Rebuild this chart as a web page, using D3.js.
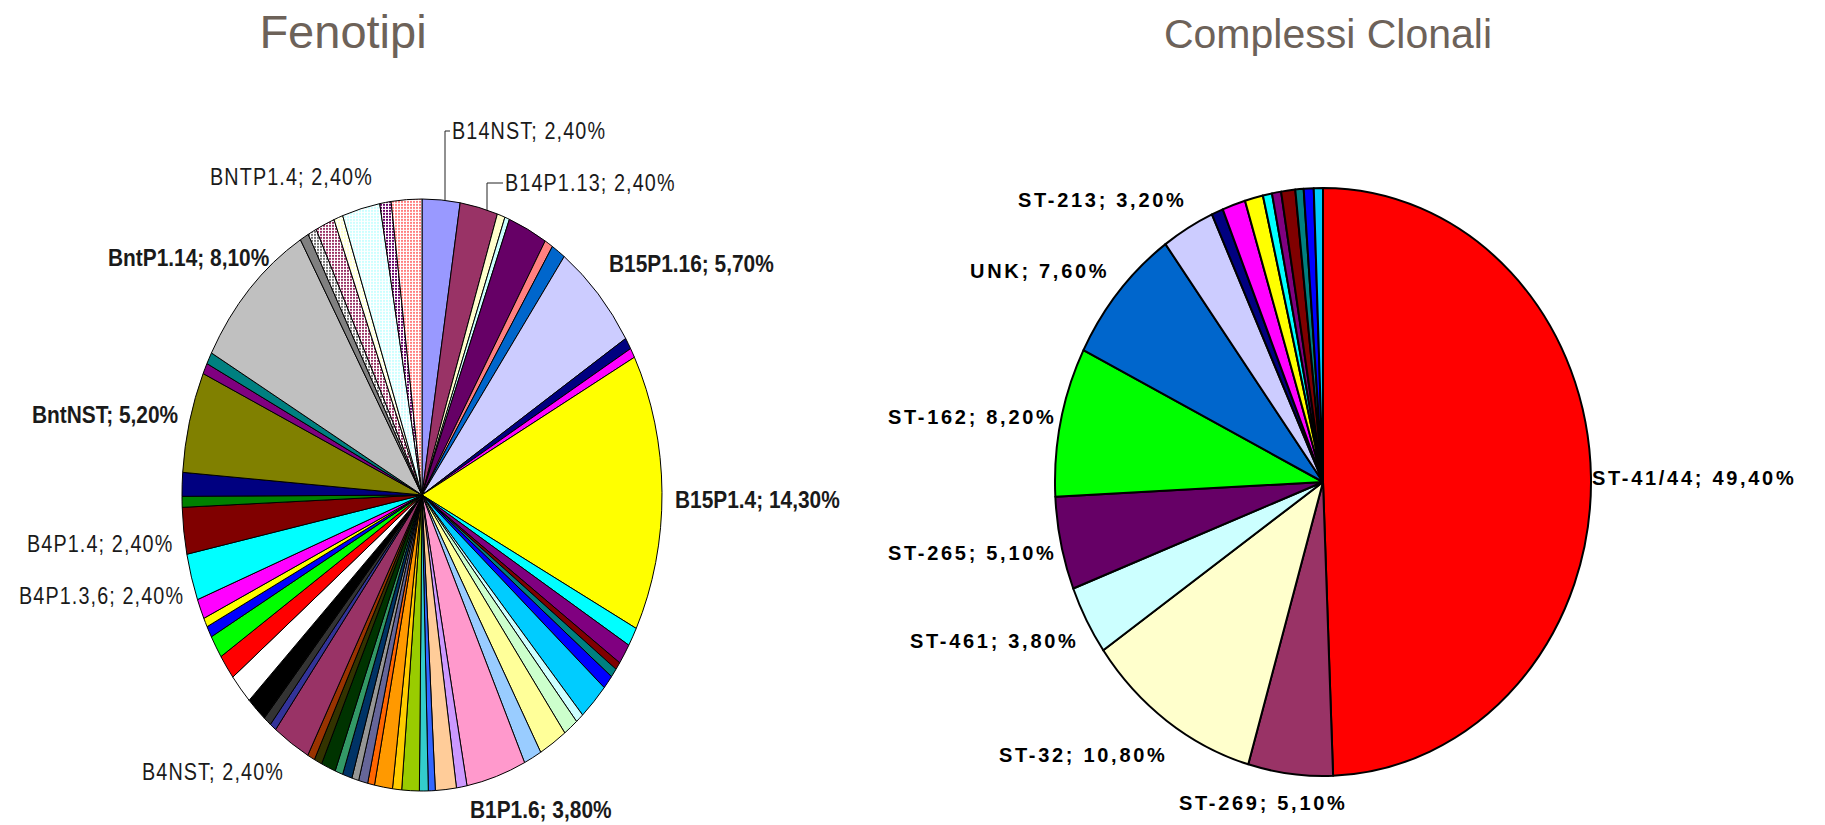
<!DOCTYPE html>
<html>
<head>
<meta charset="utf-8">
<script src="https://cdnjs.cloudflare.com/ajax/libs/d3/7.8.5/d3.min.js"></script>
<style>
body{margin:0;background:#fff;overflow:hidden;}
.title{font-family:"Liberation Sans",Arial,sans-serif;fill:#6d6259;}
.lbl{font-family:"Liberation Sans Narrow","Arial Narrow","Liberation Sans",sans-serif;fill:#1a1a1a;}
.lbl-st{font-family:"Liberation Sans",Arial,sans-serif;font-weight:bold;fill:#000;}
</style>
</head>
<body>
<div id="canvas" class="canvas" style="width:1825px;height:825px;"></div>
<script>
// Fenotipi (left pie) - percentages, clockwise from 12 o'clock
// labelled slices use the printed value, the small ones are read off the picture
var phenoNames = ['B14NST','B14P1.13','','','','','','B15P1.16','','',
    'B15P1.4','','','','','','','','','','',
    'B1P1.6','','','','','','','','','','','','','','','',
    'B4NST','','','','','','','','','',
    'B4P1.3,6','B4P1.4','','',
    'BntNST','','','BntP1.14','','','','','BNTP1.4','',''];
var phenoValues = [2.4,2.4,0.5,0.3,2.5,0.53,0.9,5.7,0.6,0.5,
    14.3,0.97,1.06,0.4,0.47,0.72,1.94,0.5,0.94,1.8,1.14,
    3.8,0.67,1.33,0.44,0.56,1.11,0.58,1.14,0.44,0.58,0.44,0.61,0.5,0.92,0.5,0.47,
    2.4,0.42,0.5,1.31,1.56,1.28,1.17,0.58,0.47,1.03,
    2.4,2.4,0.56,1.22,
    5.2,0.56,0.61,8.1,0.56,0.56,1.22,0.58,2.4,0.72,1.94];
// excel default fill order
var phenoColors = ['#9999FF','#993366','#FFFFCC','#CCFFFF','#660066','#FF8080','#0066CC','#CCCCFF','#000080','#FF00FF',
    '#FFFF00','#00FFFF','#800080','#800000','#008080','#0000FF','#00CCFF','#CCFFFF','#CCFFCC','#FFFF99','#99CCFF',
    '#FF99CC','#CC99FF','#FFCC99','#3366FF','#33CCCC','#99CC00','#FFCC00','#FF9900','#FF6600','#666699','#969696','#003366','#339966','#003300','#333300','#993300',
    '#993366','#333399','#333333','#000000','#FFFFFF','#FF0000','#00FF00','#0000FF','#FFFF00','#FF00FF',
    '#00FFFF','#800000','#008000','#000080',
    '#808000','#800080','#008080','#C0C0C0','#808080','#707070','#993366','#FFFFCC','#CCFFFF','#660066','#FF8080'];
var patternFrom = 56; // the last slices use dotted fills

// Complessi Clonali (right pie)
var ccNames = ['ST-41/44','ST-269','ST-32','ST-461','ST-265','ST-162','UNK','ST-213','','','','','','','','',''];
var ccValues = [49.4,5.1,10.8,3.8,5.1,8.2,7.6,3.2,0.7,1.4,1.1,0.55,0.55,0.85,0.5,0.6,0.55];
var ccColors = ['#FF0000','#993366','#FFFFCC','#CCFFFF','#660066','#00FF00','#0066CC','#CCCCFF',
    '#000080','#FF00FF','#FFFF00','#00FFFF','#800080','#800000','#008080','#0000FF','#00CCFF'];

// layout
var leftPie = {cx:422, cy:495, rx:240, ry:296};
var rightPie = {cx:1323, cy:482, rx:268, ry:294};

// label anchors: x start, y middle, bold
var phenoLabelPos = {
    'B14NST':[452,131,false], 'B14P1.13':[505,183,false], 'BNTP1.4':[210,177,false],
    'BntP1.14':[108,257,true], 'B15P1.16':[609,263,true], 'BntNST':[32,414,true],
    'B15P1.4':[675,499,true], 'B4P1.4':[27,544,false], 'B4P1.3,6':[19,596,false],
    'B4NST':[142,772,false], 'B1P1.6':[470,809,true]
};
var ccLabelPos = {
    'ST-41/44':[1592,478], 'ST-269':[1179,803], 'ST-32':[999,755], 'ST-461':[910,641],
    'ST-265':[888,553], 'ST-162':[888,417], 'UNK':[970,271], 'ST-213':[1018,200]
};
var leaders = {'B14NST':445, 'B14P1.13':487};

var W = 1825, H = 825;
var svg = d3.select('.canvas')
    .append('svg')
    .attr('width',W)
    .attr('height',H);

var R = 100;
var pie = d3.pie().sort(null).value(function(d){return d.v;});
var arc = d3.arc().innerRadius(0).outerRadius(R);
var fmt = function(v){ return d3.format('.2f')(v).replace('.',',') + '%'; };

var defs = svg.append('defs');

function drawPie(cfg, names, values, colors, strokeW, id, patStart){
    var rows = values.map(function(v,i){ return {v:v, name:names[i], color:colors[i], i:i}; });

    // dotted fills, undo the ellipse scale so the dots stay small
    if(patStart != null){
        rows.forEach(function(d){
            if(d.i < patStart) return;
            var p = defs.append('pattern')
                .attr('id', id + 'pat' + d.i)
                .attr('patternUnits','userSpaceOnUse')
                .attr('width',3).attr('height',3)
                .attr('patternTransform','scale(' + (R/cfg.rx) + ',' + (R/cfg.ry) + ')');
            p.append('rect').attr('width',3).attr('height',3).attr('fill','#fff');
            p.append('rect').attr('width',2).attr('height',2).attr('fill',d.color);
        });
    }

    var g = svg.append('g')
        .attr('transform','translate(' + cfg.cx + ',' + cfg.cy + ') scale(' + (cfg.rx/R) + ',' + (cfg.ry/R) + ')');

    g.selectAll('.slice')
        .data(pie(rows))
        .enter()
        .append('path')
        .attr('class','slice')
        .attr('d',arc)
        .attr('fill',function(d){
            if(patStart != null && d.data.i >= patStart) return 'url(#' + id + 'pat' + d.data.i + ')';
            return d.data.color;
        })
        .attr('stroke','#000')
        .attr('stroke-width',strokeW)
        .attr('stroke-linejoin','round')
        .attr('vector-effect','non-scaling-stroke');
}

drawPie(leftPie, phenoNames, phenoValues, phenoColors, 1, 'f', patternFrom);
drawPie(rightPie, ccNames, ccValues, ccColors, 2, 'c', null);

// titles
svg.append('text').attr('class','title')
    .attr('x',343).attr('y',48)
    .attr('text-anchor','middle')
    .style('font-size','47px')
    .text('Fenotipi');
svg.append('text').attr('class','title')
    .attr('x',1328).attr('y',48)
    .attr('text-anchor','middle')
    .style('font-size','41px')
    .text('Complessi Clonali');

// phenotype labels (narrow face squeezed horizontally)
phenoNames.forEach(function(n,i){
    if(!n) return;
    var p = phenoLabelPos[n];
    var fs = p[2] ? 24 : 23;
    svg.append('text').attr('class','lbl')
        .attr('transform','translate(' + p[0] + ',' + (p[1] + fs*0.36) + ') scale(' + (p[2] ? 0.87 : 0.86) + ',1)')
        .style('font-size',fs + 'px')
        .style('font-weight',p[2] ? 'bold' : 'normal')
        .style('letter-spacing',p[2] ? '0px' : '1.3px')
        .text(n + '; ' + fmt(phenoValues[i]));
});

// leader lines, straight down to the rim
function rimY(cfg,x){
    var k = (x - cfg.cx)/cfg.rx;
    return cfg.cy - cfg.ry*Math.sqrt(1 - k*k);
}
Object.keys(leaders).forEach(function(n){
    var p = phenoLabelPos[n], x = leaders[n];
    svg.append('path')
        .attr('d','M' + (p[0]-2) + ',' + p[1] + 'H' + x + 'V' + rimY(leftPie,x))
        .attr('fill','none')
        .attr('stroke','#222')
        .attr('stroke-width',1);
});

// clonal complex labels
ccNames.forEach(function(n,i){
    if(!n) return;
    var p = ccLabelPos[n];
    svg.append('text').attr('class','lbl-st')
        .attr('x',p[0]).attr('y',p[1] + 7)
        .style('font-size','20px')
        .style('letter-spacing','2.7px')
        .text(n + '; ' + fmt(ccValues[i]));
});
</script>
</body>
</html>
